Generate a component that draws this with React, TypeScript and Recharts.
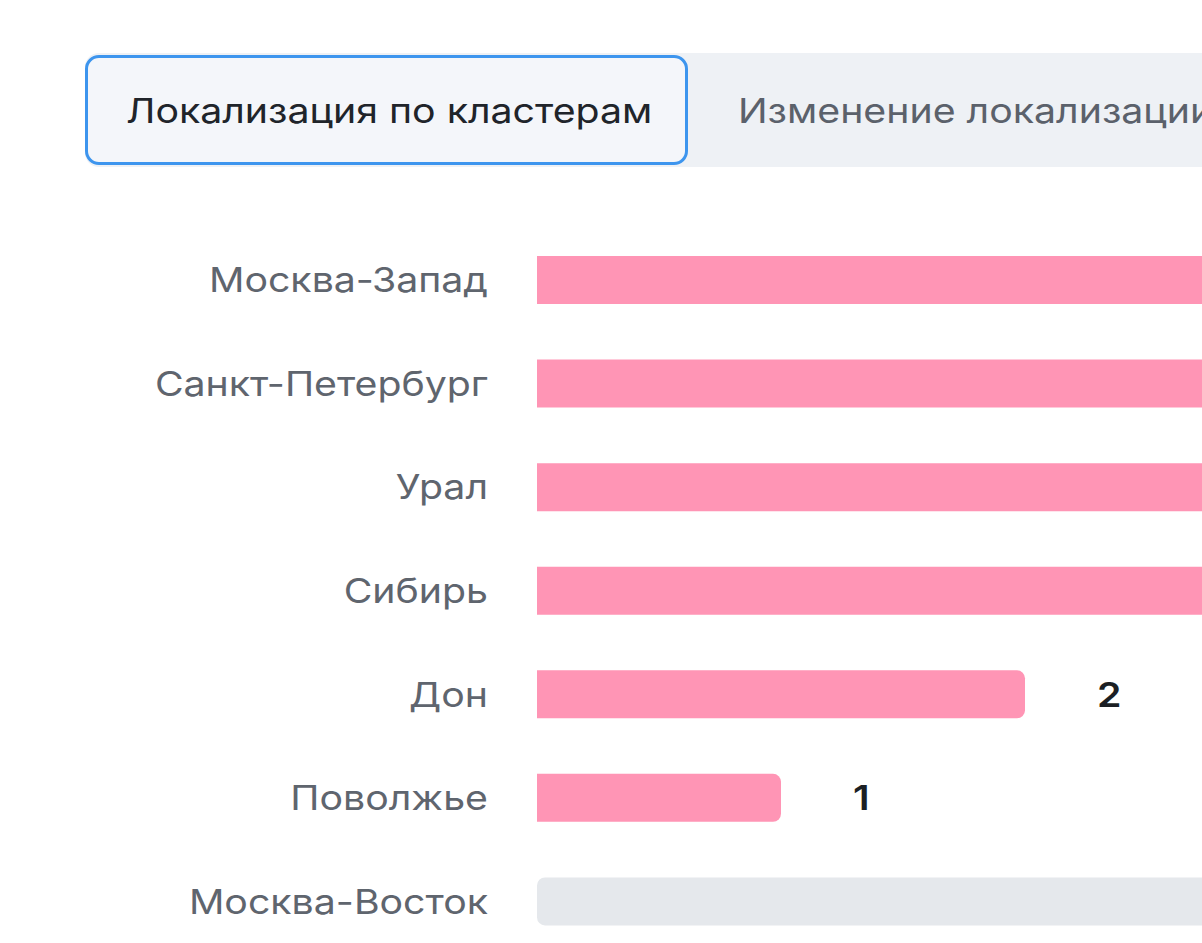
import React from 'react';
import { BarChart, Bar, XAxis, YAxis, LabelList } from 'recharts';

const clusters = [
  'Москва-Запад',
  'Санкт-Петербург',
  'Урал',
  'Сибирь',
  'Дон',
  'Поволжье',
  'Москва-Восток',
];
const counts = [5, 4, 3, 3, 2, 1, 0];
const tabs = ['Локализация по кластерам', 'Изменение локализации'];
const axisMax = 6;

const FONT = 'Inter, "Noto Sans", sans-serif';
// the source screenshot is stretched horizontally a bit
const STRETCH = 1.155;

const data = clusters.map((name, i) => ({
  name,
  count: counts[i],
  // grey placeholder track for clusters with nothing to show
  empty: counts[i] === 0 ? axisMax : 0,
}));

function ClusterTick(props: any) {
  const { x, y, payload } = props;
  return (
    <text
      transform={`translate(${x},${y}) scale(${STRETCH},1)`}
      textAnchor='end'
      dominantBaseline='central'
      fill='#5f656e'
      fontSize={34}
      fontFamily={FONT}
    >
      {payload.value}
    </text>
  );
}

function ValueLabel(props: any) {
  const { x, y, width, height, value } = props;
  if (!value) return null;
  const tx = Number(x) + Number(width) + 72;
  const ty = Number(y) + Number(height) / 2;
  return (
    <text
      transform={`translate(${tx},${ty}) scale(${STRETCH},1)`}
      dominantBaseline='central'
      fill='#1b1f24'
      fontSize={34}
      fontWeight={600}
      fontFamily={FONT}
    >
      {value}
    </text>
  );
}

const tabText = {
  fontSize: 34,
  whiteSpace: 'nowrap' as const,
  transform: `scaleX(${STRETCH})`,
  transformOrigin: 'left center',
};

export default function App() {
  return (
    <div
      style={{
        position: 'fixed',
        left: 0,
        top: 0,
        width: 1202,
        height: 943,
        overflow: 'hidden',
        background: '#fff',
        fontFamily: FONT,
      }}
    >
      <div
        style={{
          position: 'absolute',
          left: 85,
          top: 53,
          width: 1400,
          height: 114,
          background: '#eef1f5',
          borderRadius: 14,
          display: 'flex',
          alignItems: 'center',
        }}
      >
        <div
          style={{
            boxSizing: 'border-box',
            width: 603,
            height: 110,
            flexShrink: 0,
            border: '3px solid #3d95ee',
            borderRadius: 14,
            background: '#f4f6fa',
            display: 'flex',
            alignItems: 'center',
            paddingLeft: 38,
          }}
        >
          <span style={{ ...tabText, color: '#20242a' }}>{tabs[0]}</span>
        </div>
        <div style={{ paddingLeft: 50 }}>
          <div style={{ ...tabText, color: '#5b616b' }}>{tabs[1]}</div>
        </div>
      </div>

      <div style={{ position: 'absolute', left: 0, top: 0 }}>
        <BarChart
          width={2001}
          height={953}
          data={data}
          layout='vertical'
          margin={{ top: 228, right: 0, bottom: 0, left: 0 }}
          barSize={48}
        >
          <XAxis type='number' domain={[0, axisMax]} hide />
          <YAxis
            type='category'
            dataKey='name'
            width={537}
            axisLine={false}
            tickLine={false}
            tickMargin={43}
            tick={<ClusterTick />}
          />
          <Bar
            dataKey='count'
            stackId='a'
            fill='#ff95b5'
            radius={[0, 8, 8, 0]}
            isAnimationActive={false}
          >
            <LabelList dataKey='count' content={ValueLabel} />
          </Bar>
          <Bar
            dataKey='empty'
            stackId='a'
            fill='#e5e8ec'
            radius={[8, 8, 8, 8]}
            isAnimationActive={false}
          />
        </BarChart>
      </div>
    </div>
  );
}
